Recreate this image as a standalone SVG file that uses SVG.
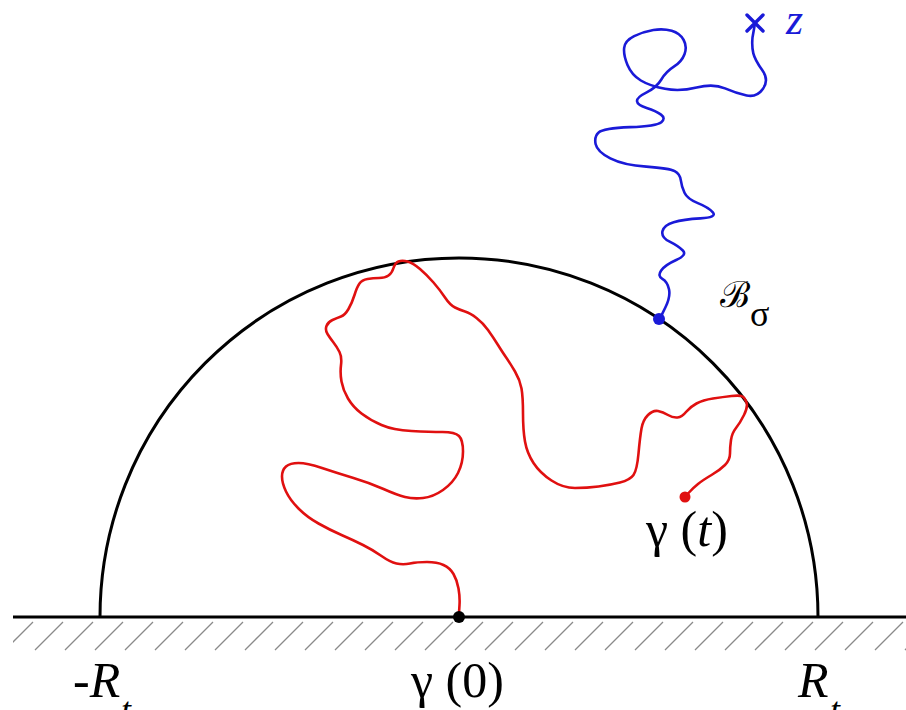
<svg xmlns="http://www.w3.org/2000/svg" width="906" height="710" viewBox="0 0 906 710">
<style>
.ln{fill:none;stroke:#000;stroke-width:3}
.hatch{stroke:#8a8a8a;stroke-width:1.3}
.red{fill:none;stroke:#e01010;stroke-width:2.6;stroke-linejoin:round;stroke-linecap:round}
.blue{fill:none;stroke:#1a1ad8;stroke-width:2.6;stroke-linejoin:round;stroke-linecap:round}
.it{font-style:italic}
</style>
<defs>
<clipPath id="hc"><rect x="13" y="619" width="893" height="40"/></clipPath>
</defs>
<rect width="906" height="710" fill="#fff"/>
<g id="hatching" clip-path="url(#hc)">
<path class="hatch" d="M5 650l28-28M35 650l28-28M65 650l28-28M95 650l28-28M125 650l28-28M155 650l28-28M185 650l28-28M215 650l28-28M245 650l28-28M275 650l28-28M305 650l28-28M335 650l28-28M365 650l28-28M395 650l28-28M425 650l28-28M455 650l28-28M485 650l28-28M515 650l28-28M545 650l28-28M575 650l28-28M605 650l28-28M635 650l28-28M665 650l28-28M695 650l28-28M725 650l28-28M755 650l28-28M785 650l28-28M815 650l28-28M845 650l28-28M875 650l28-28M905 650l28-28"/>
</g>
<g id="boundary">
<path class="ln" d="M13 617H906"/>
</g>
<g id="semicircle">
<path class="ln" d="M100 617A359 359 0 0 1 818 617"/>
</g>
<g id="red-path">
<path class="red" d="M459 613L459.5 605Q460 597 458.5 588.5Q457 580 453.5 574Q450 568 443.5 565Q437 562 427 562Q417 562 410 563.5Q403 565 396.5 563.5Q390 562 381.5 556Q373 550 363 545Q353 540 341.5 535Q330 530 318.5 523.5Q307 517 298.5 508.5Q290 500 286 491.5Q282 483 282 476.5Q282 470 286 466.5Q290 463 298.5 463Q307 463 322 468Q337 473 353.5 478Q370 483 383.5 489Q397 495 405 497Q413 499 423 498Q433 497 443 490Q453 483 458 473Q463 463 463 451.5Q463 440 459 436Q455 432 442.5 432Q430 432 411.5 431Q393 430 381.5 425Q370 420 361.5 413.5Q353 407 348 398.5Q343 390 341.5 381.5Q340 373 341 365Q342 357 339.5 352Q337 347 333.5 342.5Q330 338 327.5 334Q325 330 326.5 326Q328 322 332.5 320Q337 318 341 316.5Q345 315 348.5 309Q352 303 354.5 295Q357 287 359.5 283.5Q362 280 367.5 279Q373 278 379 278Q385 278 388.5 275.5Q392 273 393.5 268Q395 263 398.5 261.5Q402 260 407.5 261.5Q413 263 420 269Q427 275 433.5 282.5Q440 290 445 297.5Q450 305 455 307.5Q460 310 465 311.5Q470 313 476.5 318Q483 323 488 330Q493 337 498 345Q503 353 506.5 358Q510 363 515 371.5Q520 380 521.5 388.5Q523 397 523 413.5Q523 430 525 441.5Q527 453 533.5 463Q540 473 551.5 480.5Q563 488 575 488Q587 488 598.5 486.5Q610 485 620 482.5Q630 480 633.5 475Q637 470 638.5 453.5Q640 437 641.5 428.5Q643 420 648 415Q653 410 658 411Q663 412 668 415Q673 418 677.5 417.5Q682 417 686 412Q690 407 696.5 403.5Q703 400 713 398.5Q723 397 731.5 396Q740 395 742.5 396.5Q745 398 746.5 402.5Q748 407 744 415Q740 423 736 428Q732 433 731 440Q730 447 730 453.5Q730 460 725 465Q720 470 711.5 475Q703 480 698 484Q693 488 689 492.5L685 497"/>
<circle cx="685" cy="497" r="5.5" fill="#e01010"/>
</g>
<g id="blue-path">
<path class="blue" vector-effect="non-scaling-stroke" transform="translate(580 0) scale(0.33333)" d="M240 955L256 922.5Q272 890 267 867.5Q262 845 247 836.5Q232 828 243.5 811.5Q255 795 288.5 780Q322 765 308.5 751.5Q295 738 269 725Q243 712 247.5 693.5Q252 675 281 666.5Q310 658 361 655Q412 652 398.5 637Q385 622 353.5 609.5Q322 597 313.5 578.5Q305 560 302.5 541Q300 522 284 513.5Q268 505 199 500Q130 495 91 475Q52 455 47 432.5Q42 410 56 397.5Q70 385 150 381.5Q230 378 244 366.5Q258 355 243 344Q228 333 200 324Q172 315 171 303.5Q170 292 200 277Q230 262 244 238.5Q258 215 281.5 200Q305 185 313.5 162.5Q322 140 311 120Q300 100 275 92.5Q250 85 220 90Q190 95 162.5 108.5Q135 122 132.5 143.5Q130 165 142.5 195Q155 225 182.5 241.5Q210 258 255 266.5Q300 275 350 262.5Q400 250 435 265Q470 280 500 286.5Q530 293 549 266.5Q568 240 546.5 210Q525 180 520 160Q515 140 517.5 112.5L525 70"/>
<circle cx="659" cy="319" r="6" fill="#1a1ad8"/>
<path class="blue" style="stroke-width:3.4" d="M747 15L763 31M763 15L747 31"/>
</g>
<g id="origin">
<circle cx="459" cy="617" r="6" fill="#000"/>
</g>
<g id="labels" font-family="Liberation Serif, DejaVu Serif, serif" fill="#000">
<text x="73" y="697" font-size="50">-<tspan class="it">R</tspan><tspan class="it" font-size="36" x="121" y="722">t</tspan></text>
<text x="798" y="697" font-size="50"><tspan class="it">R</tspan><tspan class="it" font-size="36" x="830" y="722">t</tspan></text>
<text x="411" y="697" font-size="50">γ (0)</text>
<text x="646" y="546" font-size="50">γ (<tspan class="it">t</tspan>)</text>
<text class="it" x="786" y="34" font-size="44" fill="#1a1ad8">z</text>
<text x="720" y="307" font-size="36" font-family="DejaVu Serif, serif">ℬ<tspan font-size="36" y="326" font-family="Liberation Serif, serif">σ</tspan></text>
</g>
</svg>
